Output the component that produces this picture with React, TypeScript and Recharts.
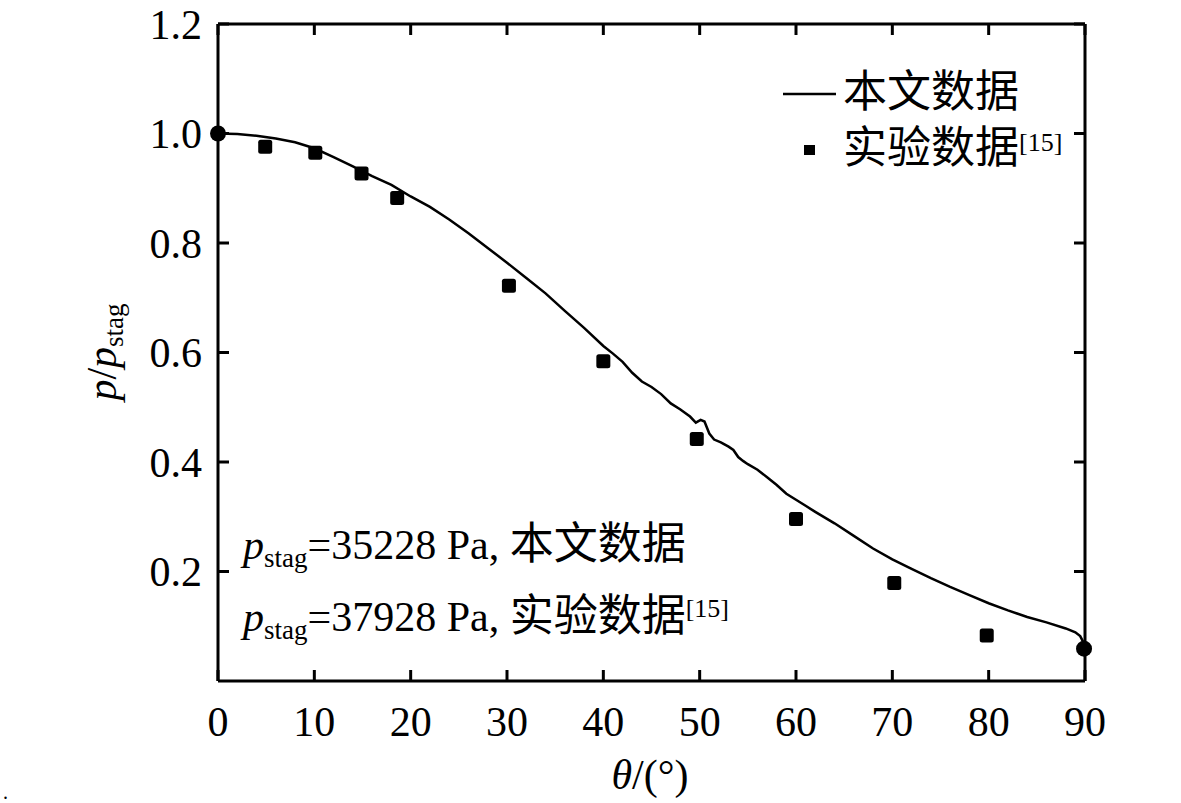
import React from "react";
import {
  ComposedChart,
  Line,
  Scatter,
  XAxis,
  YAxis,
  Legend,
  Customized,
} from "recharts";

// Surface pressure ratio p/p_stag vs angle theta: computed curve vs experiment [15]

const FONT = '"Liberation Serif", "Times New Roman", "Noto Sans CJK SC", serif';
const INK = "#000";
const TICK_LEN = 11;

export const curveTheta = [
  0, 2, 4, 6, 8, 10, 12, 14, 16, 18, 20, 22, 24, 26, 28, 30, 32, 34, 36, 38, 40,
  41, 42, 43, 44, 45, 46, 47, 48, 49, 49.6, 50.1, 50.5, 51, 51.5, 52.2, 53, 53.5,
  54, 54.5, 55, 56, 57, 58, 59, 60, 61, 62, 64, 66, 68, 70, 72, 74, 76, 78, 80,
  82, 84, 86, 88, 89, 89.5, 90,
];
export const curveValue = [
  1.0, 0.999, 0.996, 0.991, 0.984, 0.973, 0.957, 0.94, 0.922, 0.906, 0.885,
  0.866, 0.843, 0.818, 0.791, 0.764, 0.736, 0.708, 0.676, 0.645, 0.612, 0.598,
  0.583, 0.563, 0.547, 0.537, 0.524, 0.507, 0.496, 0.483, 0.472, 0.477, 0.474,
  0.452, 0.441, 0.436, 0.428, 0.422, 0.409, 0.402, 0.396, 0.386, 0.372, 0.358,
  0.342, 0.331, 0.32, 0.309, 0.288, 0.265, 0.242, 0.222, 0.205, 0.188, 0.172,
  0.157, 0.142, 0.129, 0.117, 0.107, 0.096, 0.089, 0.082, 0.065,
];

export const expTheta = [0, 4.9, 10.1, 14.9, 18.6, 30.2, 40.0, 49.7, 60.0, 70.2, 79.8, 89.9];
export const expValue = [1.0, 0.976, 0.965, 0.927, 0.882, 0.722, 0.584, 0.442, 0.296, 0.179, 0.083, 0.059];

export const xTicks = [0, 10, 20, 30, 40, 50, 60, 70, 80, 90];
export const yTicks = [0.2, 0.4, 0.6, 0.8, 1.0, 1.2];

const seriesNames = ["本文数据", "实验数据"];

const curve = curveTheta.map((theta, i) => ({ theta, v: curveValue[i] }));
const experiment = expTheta.map((theta, i) => ({ theta, v: expValue[i] }));

const axisLine = { stroke: INK, strokeWidth: 3 };

// ticks point into the plot on all four sides
function BottomTick({ x, y, payload }: any) {
  return (
    <g>
      <line x1={x} x2={x} y1={y} y2={y - TICK_LEN} stroke={INK} strokeWidth={3} />
      <text x={x} y={y + 55} textAnchor="middle" fontSize={42} fontFamily={FONT} fill={INK}>
        {payload.value}
      </text>
    </g>
  );
}

function LeftTick({ x, y, payload }: any) {
  return (
    <g>
      <line x1={x} x2={x + TICK_LEN} y1={y} y2={y} stroke={INK} strokeWidth={3} />
      <text x={x - 16} y={y + 14.5} textAnchor="end" fontSize={42} fontFamily={FONT} fill={INK}>
        {Number(payload.value).toFixed(1)}
      </text>
    </g>
  );
}

function TopTick({ x, y }: any) {
  return <line x1={x} x2={x} y1={y} y2={y + TICK_LEN} stroke={INK} strokeWidth={3} />;
}

function RightTick({ x, y }: any) {
  return <line x1={x - TICK_LEN} x2={x} y1={y} y2={y} stroke={INK} strokeWidth={3} />;
}

function ExpMarker(props: any) {
  const { cx, cy, payload } = props;
  if (cx == null || cy == null) return null;
  const edge = payload && (payload.theta === 0 || payload.theta > 89);
  if (edge) return <circle cx={cx} cy={cy} r={8} fill={INK} />;
  return <rect x={cx - 7} y={cy - 7} width={14} height={14} rx={2.5} fill={INK} />;
}

function LegendBox({ payload }: any) {
  const items = payload || [];
  const ordered = seriesNames
    .map((n) => items.find((p: any) => p.value === n))
    .filter(Boolean);
  return (
    <svg width={320} height={130} style={{ overflow: "visible" }}>
      {ordered.map((item: any, i: number) => {
        const base = 47 + i * 56;
        return (
          <g key={item.value}>
            {i === 0 ? (
              <line x1={8} x2={61} y1={34} y2={34} stroke={INK} strokeWidth={2.5} />
            ) : (
              <rect x={29} y={85} width={11} height={10} fill={INK} />
            )}
            <text x={68} y={base} fontSize={44} fontFamily={FONT} fill={INK}>
              {item.value}
              {i === 1 && (
                <tspan fontSize={26} dy={-12}>
                  [15]
                </tspan>
              )}
            </text>
          </g>
        );
      })}
    </svg>
  );
}

function Annotations() {
  return (
    <g fontFamily={FONT} fill={INK}>
      <text x={243} y={559} fontSize={42}>
        <tspan fontStyle="italic">p</tspan>
        <tspan fontSize={27} dy={8}>stag</tspan>
        <tspan dy={-8}>=35228 Pa, </tspan>
        <tspan fontSize={44}>本文数据</tspan>
      </text>
      <text x={243} y={631} fontSize={42}>
        <tspan fontStyle="italic">p</tspan>
        <tspan fontSize={27} dy={8}>stag</tspan>
        <tspan dy={-8}>=37928 Pa, </tspan>
        <tspan fontSize={44}>实验数据</tspan>
        <tspan fontSize={26} dy={-14}>[15]</tspan>
      </text>
      <text x={650} y={789} fontSize={42} textAnchor="middle">
        <tspan fontStyle="italic">θ</tspan>/(°)
      </text>
      <text transform="translate(116,352) rotate(-90)" x={0} y={0} fontSize={42} textAnchor="middle">
        <tspan fontStyle="italic">p</tspan>/<tspan fontStyle="italic">p</tspan>
        <tspan fontSize={27} dy={7}>stag</tspan>
      </text>
      <text x={3} y={799} fontSize={20}>.</text>
    </g>
  );
}

export default function App() {
  return (
    <div style={{ position: "absolute", left: 0, top: 0, width: 1181, height: 803, background: "#fff" }}>
      <ComposedChart
        width={1181}
        height={803}
        data={curve}
        margin={{ top: 23, right: 95, bottom: 0, left: 0 }}
      >
        <XAxis
          dataKey="theta"
          type="number"
          domain={[0, 90]}
          ticks={xTicks}
          interval={0}
          height={122}
          tickSize={0}
          tickMargin={0}
          tickLine={false}
          tick={BottomTick}
          axisLine={axisLine}
        />
        <XAxis
          xAxisId="top"
          orientation="top"
          dataKey="theta"
          type="number"
          domain={[0, 90]}
          ticks={xTicks}
          interval={0}
          height={1}
          tickSize={0}
          tickMargin={0}
          tickLine={false}
          tick={TopTick}
          axisLine={axisLine}
        />
        <YAxis
          type="number"
          domain={[0, 1.2]}
          ticks={yTicks}
          interval={0}
          width={218}
          tickSize={0}
          tickMargin={0}
          tickLine={false}
          tick={LeftTick}
          axisLine={axisLine}
        />
        <YAxis
          yAxisId="right"
          orientation="right"
          type="number"
          domain={[0, 1.2]}
          ticks={yTicks}
          interval={0}
          width={1}
          tickSize={0}
          tickMargin={0}
          tickLine={false}
          tick={RightTick}
          axisLine={axisLine}
        />
        <Line
          name={seriesNames[0]}
          dataKey="v"
          type="linear"
          stroke={INK}
          strokeWidth={2.5}
          dot={false}
          activeDot={false}
          isAnimationActive={false}
        />
        <Scatter
          name={seriesNames[1]}
          data={experiment}
          dataKey="v"
          xAxisId="top"
          yAxisId="right"
          fill={INK}
          shape={ExpMarker}
          isAnimationActive={false}
        />
        <Legend
          layout="vertical"
          align="center"
          verticalAlign="middle"
          wrapperStyle={{ left: 775, top: 60, width: 320, height: 130 }}
          content={LegendBox}
        />
        <Customized component={Annotations} />
      </ComposedChart>
    </div>
  );
}
